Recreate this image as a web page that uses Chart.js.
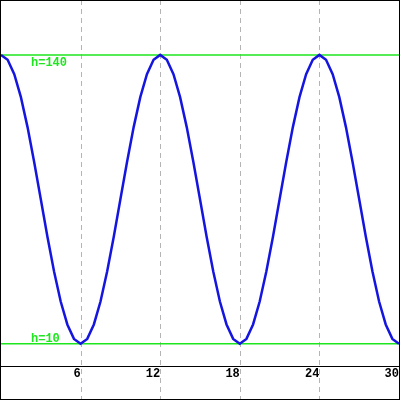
<!DOCTYPE html>
<html>
<head>
<meta charset="utf-8">
<script src="https://cdn.jsdelivr.net/npm/chart.js@4"></script>
<style>
  html, body { margin: 0; padding: 0; background: #fff; }
</style>
</head>
<body>
<canvas id="grafica" width="400" height="400"></canvas>
<script>
// valores (paso de 0.5)
const xs = [0,0.5,1,1.5,2,2.5,3,3.5,4,4.5,5,5.5,6,6.5,7,7.5,8,8.5,9,9.5,10,10.5,11,11.5,
            12,12.5,13,13.5,14,14.5,15,15.5,16,16.5,17,17.5,18,18.5,19,19.5,20,20.5,21,21.5,22,22.5,23,23.5,
            24,24.5,25,25.5,26,26.5,27,27.5,28,28.5,29,29.5,30];
const alturas = [140,137.8,131.3,121,107.5,91.8,75,58.2,42.5,29,18.7,12.2,10,12.2,18.7,29,42.5,58.2,75,91.8,107.5,121,131.3,137.8,
                 140,137.8,131.3,121,107.5,91.8,75,58.2,42.5,29,18.7,12.2,10,12.2,18.7,29,42.5,58.2,75,91.8,107.5,121,131.3,137.8,
                 140,137.8,131.3,121,107.5,91.8,75,58.2,42.5,29,18.7,12.2,10];
const niveles = [140, 10];
const etiquetasNivel = ['h=140', 'h=10'];
const marcasX = [6, 12, 18, 24];

const verde = '#1ee61e';
const azul = '#1515e0';
const fuente = '"Liberation Mono", "DejaVu Sans Mono", monospace';

const puntos = xs.map((x, i) => ({x: x, y: alturas[i]}));
const lineasNivel = niveles.map(h => ({
    data: [{x: 0, y: h}, {x: 30, y: h}],
    borderColor: verde,
    borderWidth: 1.5,
    pointRadius: 0,
    order: 2
}));

// rejilla discontinua y marco
const extras = {
    id: 'extras',
    beforeDatasetsDraw(chart) {
        const ctx = chart.ctx;
        const sx = chart.scales.x;
        ctx.save();
        ctx.strokeStyle = '#b4b4b4';
        ctx.lineWidth = 1;
        ctx.setLineDash([5, 4]);
        marcasX.forEach(v => {
            const px = Math.round(sx.getPixelForValue(v)) + 0.5;
            ctx.beginPath();
            ctx.moveTo(px, 0);
            ctx.lineTo(px, chart.height);
            ctx.stroke();
        });
        ctx.restore();
    },
    afterDraw(chart) {
        const ctx = chart.ctx;
        const sy = chart.scales.y;
        ctx.save();
        ctx.font = 'bold 12px ' + fuente;
        ctx.fillStyle = verde;
        ctx.textAlign = 'left';
        ctx.textBaseline = 'alphabetic';
        niveles.forEach((h, i) => {
            const py = sy.getPixelForValue(h);
            const y = i === 0 ? py + 11 : py - 2;
            ctx.fillText(etiquetasNivel[i], 31, y);
        });
        ctx.strokeStyle = '#000';
        ctx.lineWidth = 1;
        ctx.strokeRect(0.5, 0.5, 399, 399);
        ctx.restore();
    }
};

const $grafica = document.querySelector('#grafica');
new Chart($grafica, {
    type: 'line',
    data: {
        datasets: [{
            data: puntos,
            borderColor: azul,
            borderWidth: 2.5,
            pointRadius: 0,
            tension: 0,
            order: 1
        }, ...lineasNivel]
    },
    options: {
        responsive: false,
        animation: false,
        layout: { padding: 0 },
        plugins: {
            legend: { display: false },
            tooltip: { enabled: false }
        },
        scales: {
            x: {
                type: 'linear',
                min: 0,
                max: 30,
                grid: { display: false, drawTicks: false },
                border: { display: true, color: '#000', width: 1 },
                ticks: {
                    stepSize: 6,
                    padding: 1,
                    align: 'end',
                    maxRotation: 0,
                    color: '#000',
                    font: { family: fuente, size: 12, weight: 'bold' },
                    callback: v => v === 0 ? '' : v
                },
                afterFit(scale) { scale.height = 34; }
            },
            y: {
                display: false,
                min: 0,
                max: 164.7
            }
        }
    },
    plugins: [extras]
});
</script>
</body>
</html>
